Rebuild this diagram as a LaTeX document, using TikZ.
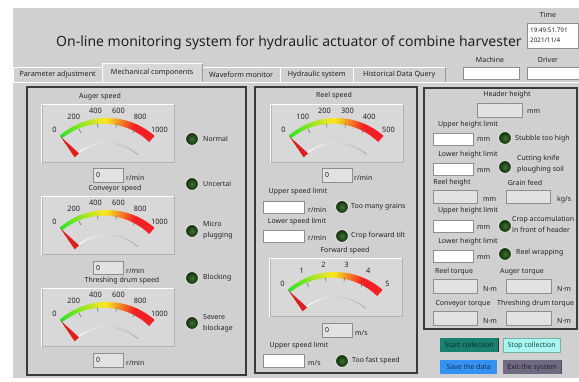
\documentclass[tikz,border=0pt]{standalone}
\usepackage{fontspec}
\setmainfont{Noto Sans}
\usetikzlibrary{calc}
\definecolor{panelgray}{HTML}{D0D0D0}
\definecolor{facegray}{HTML}{D8D8D8}
\definecolor{readfill}{HTML}{E2E2E2}
\definecolor{framedark}{HTML}{3A3A3A}
\definecolor{edgegray}{HTML}{8E8E8E}
\definecolor{ledlight}{HTML}{3E7230}
\definecolor{leddark}{HTML}{112A0B}
\definecolor{needlered}{HTML}{E01E1E}
\definecolor{startteal}{HTML}{17806F}
\definecolor{stopcyan}{HTML}{A9F7F0}
\definecolor{saveblue}{HTML}{3592F2}
\definecolor{exitgray}{HTML}{6F6A82}
\definecolor{txtdark}{HTML}{222222}
\tikzset{
  lbl/.style={font=\fontsize{7}{8}\selectfont, text=txtdark, inner sep=0pt},
  twoline/.style={lbl, align=left, font=\fontsize{7}{11}\selectfont},
  ticklbl/.style={font=\fontsize{7.4}{8}\selectfont, text=txtdark, inner sep=0pt},
  readout/.style={rectangle, fill=readfill, draw=edgegray, line width=0.6pt, inner sep=0pt, anchor=north west},
  inputbox/.style={readout, fill=white},
  led/.style={circle, minimum size=13pt, inner sep=0pt, draw=white!88!black, line width=1pt, inner color=ledlight, outer color=leddark},
  panelframe/.style={draw=framedark, line width=1.6pt},
  gaugeface/.style={rectangle, fill=facegray, draw=black!30, line width=0.8pt, inner sep=0pt, minimum width=132pt, minimum height=58pt, anchor=north},
  tabbox/.style={rectangle, fill=panelgray, inner sep=0pt, minimum height=14pt, anchor=south west, font=\fontsize{7.2}{8}\selectfont, text=txtdark},
  btn/.style={rectangle, inner sep=0pt, minimum height=14pt, anchor=north west, font=\fontsize{7}{8}\selectfont}
}
% dial: name, centre x, top y, scale labels
\newcommand\gaugedial[4]{%
  \node[gaugeface] (#1) at (#2,#3) {};
  \draw[white, line width=1pt] (#1.south west) |- (#1.north east);
  \begin{scope}[shift={(#2-1,#3+86)}, yscale=-1]
    \foreach \i in {0,...,39} {
      \pgfmathsetmacro\fpos{\i/39}
      \pgfmathtruncatemacro\bandR{40+205*min(1,\fpos/0.45)}
      \pgfmathtruncatemacro\bandG{230-200*min(1,max(0,(\fpos-0.5)/0.3))}
      \definecolor{bandc}{RGB}{\bandR,\bandG,35}
      \pgfmathsetmacro\angA{131-\i*82/40}
      \pgfmathsetmacro\angB{\angA-82/40-0.3}
      \pgfmathsetmacro\rIn{72-3.5-4.5*\fpos}
      \fill[bandc] (\angA:72) arc[start angle=\angA, end angle=\angB, radius=72]
        -- (\angB:\rIn) arc[start angle=\angB, end angle=\angA, radius=\rIn] -- cycle;
    }
    \foreach \k in {1,...,4}
      \draw[black!55, line width=0.6pt] ({131-\k*16.4}:63) -- ({131-\k*16.4}:67);
    \foreach \lab [count=\k from 0] in {#4}
      \node[ticklbl] (#1-t\k) at ({131-\k*16.4}:80) {\lab};
    \foreach \j in {0,...,11} {
      \pgfmathtruncatemacro\hubmix{100-\j*6}
      \draw[white!\hubmix!black!45, line width=1.1pt]
        ({131-\j*82/12}:47) arc[start angle={131-\j*82/12}, end angle={131-(\j+1)*82/12}, radius=47];
    }
    \fill[needlered] (127.3:46) -- (131:71) -- (134.7:46) -- cycle;
  \end{scope}
}

\begin{document}
\begin{tikzpicture}[x=1pt, y=-1pt]
\useasboundingbox (0,0) rectangle (579,381);
\fill[white] (0,0) rectangle (579,381);
\fill[panelgray] (13,8) rectangle (579,378);

% header
\node[anchor=base, inner sep=0pt, text=txtdark, font=\fontsize{14}{16}\selectfont] (title) at (289,46)
  {On-line monitoring system for hydraulic actuator of combine harvester};
\node[lbl] (timelbl) at (548,15) {Time};
\node[inputbox, minimum width=51pt, minimum height=25pt] (timebox) at (527,23) {};
\node[lbl, anchor=west, font=\fontsize{6.3}{7}\selectfont] (clock) at (530,30) {19:49:51.791};
\node[lbl, anchor=west, font=\fontsize{6.3}{7}\selectfont] (date) at (530,40) {2021/11/4};
\node[lbl] (machinelbl) at (490,60) {Machine};
\node[inputbox, minimum width=56pt, minimum height=12pt] (machinebox) at (463,67) {};
\node[lbl] (driverlbl) at (548,60) {Driver};
\node[inputbox, minimum width=52pt, minimum height=12pt] (driverbox) at (527,67) {};

% tabs
\draw[white, line width=0.8pt] (13,82) -- (579,82);
\node[tabbox, minimum width=89pt] (tabparam) at (13,82) {Parameter adjustment};
\node[tabbox, minimum width=78pt] (tabwave) at (202,82) {Waveform monitor};
\node[tabbox, minimum width=73pt] (tabhyd) at (280,82) {Hydraulic system};
\node[tabbox, minimum width=92pt] (tabhist) at (353,82) {Historical Data Query};
\node[tabbox, minimum width=100pt, minimum height=18pt, fill=facegray] (tabmech) at (102,82) {Mechanical components};
\foreach \t in {tabparam, tabwave, tabhyd, tabhist, tabmech} {
  \draw[white, line width=0.8pt] (\t.south west) |- (\t.north east);
  \draw[black!40, line width=0.8pt] (\t.north east) -- (\t.south east);
}

% frames
\draw[panelframe] (27,87) rectangle (246,375);
\draw[panelframe] (255,87) rectangle (417,373);
\draw[panelframe] (424,88) rectangle (577,329);

% left panel
\node[lbl] (augerlbl) at (100,97) {Auger speed};
\gaugedial{augerdial}{108}{104}{0,200,400,600,800,1000}
\node[readout, minimum width=30pt, minimum height=14pt] (augerval) at (93,168) {};
\node[lbl, anchor=west] (augerzero) at ([xshift=3pt]augerval.west) {0};
\node[lbl, anchor=west] (augerunit) at (126,178) {r/min};

\node[lbl] (conveyorlbl) at (115,189) {Conveyor speed};
\gaugedial{conveyordial}{108}{196}{0,200,400,600,800,1000}
\node[readout, minimum width=30pt, minimum height=13pt] (conveyorval) at (93,261) {};
\node[lbl, anchor=west] (conveyorzero) at ([xshift=3pt]conveyorval.west) {0};
\node[lbl, anchor=west] (conveyorunit) at (126,271) {r/min};

\node[lbl] (drumlbl) at (122,281) {Threshing drum speed};
\gaugedial{drumdial}{108}{288}{0,200,400,600,800,1000}
\node[readout, minimum width=30pt, minimum height=14pt] (drumval) at (93,353) {};
\node[lbl, anchor=west] (drumzero) at ([xshift=3pt]drumval.west) {0};
\node[lbl, anchor=west] (drumunit) at (126,363) {r/min};

\node[led] (ledA) at (192,139) {};
\node[lbl, anchor=west] (normal) at (203,139) {Normal};
\node[led] (ledB) at (192,184) {};
\node[lbl, anchor=west] (uncertain) at (203,184) {Uncertai};
\node[led] (ledC) at (192,231) {};
\node[twoline, anchor=west] (microplug) at (203,230.5) {Micro\\plugging};
\node[led] (ledD) at (192,278) {};
\node[lbl, anchor=west] (blocking) at (203,278) {Blocking};
\node[led] (ledE) at (192,323) {};
\node[twoline, anchor=west] (severe) at (203,323) {Severe\\blockage};

% middle panel
\node[lbl] (reellbl) at (334,96) {Reel speed};
\gaugedial{reeldial}{337}{104}{0,100,200,300,400,500}
\node[readout, minimum width=30pt, minimum height=14pt] (reelval) at (322,168) {};
\node[lbl, anchor=west] (reelzero) at ([xshift=3pt]reelval.west) {0};
\node[lbl, anchor=west] (reelunit) at (354,178) {r/min};

\node[lbl] (reelupperlbl) at (298,192) {Upper speed limit};
\node[inputbox, minimum width=41pt, minimum height=12pt] (reelupper) at (263,201) {};
\node[lbl, anchor=west] (reelupperunit) at (308,210) {r/min};
\node[led] (ledF) at (342,207) {};
\node[lbl, anchor=west] (grains) at (351,207) {Too many grains};

\node[lbl] (reellowerlbl) at (297,222) {Lower speed limit};
\node[inputbox, minimum width=41pt, minimum height=12pt] (reellower) at (263,230) {};
\node[lbl, anchor=west] (reellowerunit) at (308,238) {r/min};
\node[led] (ledG) at (342,236) {};
\node[lbl, anchor=west] (tilt) at (351,236) {Crop forward tilt};

\node[lbl] (fwdlbl) at (345,251) {Forward speed};
\gaugedial{fwddial}{336}{258}{0,1,2,3,4,5}
\node[readout, minimum width=30pt, minimum height=14pt] (fwdval) at (322,323) {};
\node[lbl, anchor=west] (fwdzero) at ([xshift=3pt]fwdval.west) {0};
\node[lbl, anchor=west] (fwdunit) at (355,333) {m/s};

\node[lbl] (fwdupperlbl) at (299,346) {Upper speed limit};
\node[inputbox, minimum width=41pt, minimum height=13pt] (fwdupper) at (263,354) {};
\node[lbl, anchor=west] (fwdupperunit) at (308,363) {m/s};
\node[led] (ledH) at (342,361) {};
\node[lbl, anchor=west] (toofast) at (352,361) {Too fast speed};

% right panel
\node[lbl] (headerlbl) at (507,95) {Header height};
\node[readout, minimum width=45pt, minimum height=14pt] (headerval) at (477,103) {};
\node[lbl, anchor=west] (headerunit) at (527,112) {mm};

\node[lbl] (hupperlbl) at (468,125) {Upper height limit};
\node[inputbox, minimum width=40pt, minimum height=12pt] (hupper) at (433,133) {};
\node[lbl, anchor=west] (hupperunit) at (477,140) {mm};
\node[led] (ledI) at (505,138) {};
\node[lbl, anchor=west] (stubble) at (515,139) {Stubble too high};

\node[lbl] (hlowerlbl) at (468,155) {Lower height limit};
\node[inputbox, minimum width=40pt, minimum height=12pt] (hlower) at (433,163) {};
\node[lbl, anchor=west] (hlowerunit) at (477,171) {mm};
\node[led] (ledJ) at (505,167) {};
\node[twoline, anchor=west] (knife) at (517,164.5) {Cutting knife\\ploughing soil};

\node[lbl] (reelhlbl) at (452,183) {Reel height};
\node[readout, minimum width=44pt, minimum height=13pt] (reelhval) at (433,190) {};
\node[lbl, anchor=west] (reelhunit) at (483,200) {mm};
\node[lbl] (feedlbl) at (525,183) {Grain feed};
\node[readout, minimum width=44pt, minimum height=13pt] (feedval) at (506,190) {};
\node[lbl, anchor=west] (feedunit) at (557,200) {kg/s};

\node[lbl] (rupperlbl) at (468,211) {Upper height limit};
\node[inputbox, minimum width=40pt, minimum height=12pt] (rupper) at (433,220) {};
\node[lbl, anchor=west] (rupperunit) at (477,228) {mm};
\node[led] (ledK) at (505,226) {};
\node[twoline, anchor=west] (accum) at (512,224) {Crop accumulation\\in front of header};

\node[lbl] (rlowerlbl) at (468,242) {Lower height limit};
\node[inputbox, minimum width=40pt, minimum height=12pt] (rlower) at (433,250) {};
\node[lbl, anchor=west] (rlowerunit) at (477,258) {mm};
\node[led] (ledL) at (505,254) {};
\node[lbl, anchor=west] (wrapping) at (516,253) {Reel wrapping};

\node[lbl] (reeltqlbl) at (454,272) {Reel torque};
\node[readout, minimum width=44pt, minimum height=14pt] (reeltq) at (433,279) {};
\node[lbl, anchor=west] (reeltqunit) at (483,289) {N·m};
\node[lbl] (augertqlbl) at (522,272) {Auger torque};
\node[readout, minimum width=45pt, minimum height=14pt] (augertq) at (506,279) {};
\node[lbl, anchor=west] (augertqunit) at (557,289) {N·m};

\node[lbl] (convtqlbl) at (463,304) {Conveyor torque};
\node[readout, minimum width=44pt, minimum height=14pt] (convtq) at (433,311) {};
\node[lbl, anchor=west] (convtqunit) at (483,321) {N·m};
\node[lbl, anchor=west] (drumtqlbl) at (497,304) {Threshing drum torque};
\node[readout, minimum width=45pt, minimum height=14pt] (drumtq) at (506,311) {};
\node[lbl, anchor=west] (drumtqunit) at (557,321) {N·m};

% buttons
\node[btn, minimum width=58pt, fill=startteal, text=startteal!35!black] (startbtn) at (440,338) {Start collection};
\node[btn, minimum width=57pt, fill=stopcyan, draw=startteal!60, text=startteal!60!black] (stopbtn) at (503,338) {Stop collection};
\node[btn, minimum width=57pt, fill=saveblue, text=saveblue!35!black] (savebtn) at (440,360) {Save the data};
\node[btn, minimum width=58pt, fill=exitgray, text=exitgray!30!black] (exitbtn) at (503,360) {Exit the system};
\draw[black!80, line width=1.2pt] (startbtn.north east) -- (startbtn.south east);
\draw[black!70, line width=1.2pt] (exitbtn.north east) -- (exitbtn.south east);
\end{tikzpicture}
\end{document}
